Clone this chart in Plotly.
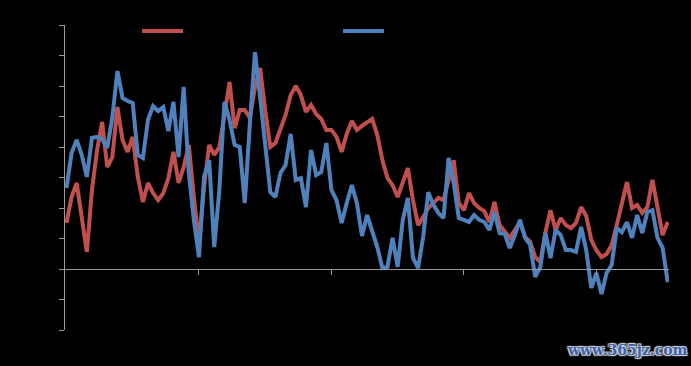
import plotly.graph_objects as go

# weekly index (0..118)
weeks = list(range(119))

series_red = [
    1.51, 2.36, 2.82, 1.70, 0.56, 2.59, 3.90, 4.82, 3.34, 3.67,
    5.31, 4.23, 3.84, 4.33, 3.02, 2.20, 2.82, 2.49, 2.26, 2.49,
    2.98, 3.84, 2.82, 3.34, 4.07, 2.36, 0.85, 2.69, 4.07, 3.74,
    4.00, 5.05, 6.13, 4.62, 5.21, 5.21, 4.95, 5.97, 6.59, 5.21,
    4.00, 4.13, 4.59, 5.05, 5.70, 6.00, 5.70, 5.15, 5.38, 5.08,
    4.92, 4.56, 4.56, 4.33, 3.84, 4.43, 4.85, 4.56, 4.69, 4.82,
    4.92, 4.39, 3.57, 2.98, 2.75, 2.36, 2.82, 3.31, 2.26, 1.44,
    1.70, 2.00, 2.16, 2.33, 2.26, 2.92, 3.57, 2.16, 1.93, 2.49,
    2.16, 2.00, 1.90, 1.54, 2.20, 1.44, 1.25, 1.02, 1.28, 1.54,
    1.05, 0.89, 0.39, 0.23, 1.21, 1.93, 1.28, 1.67, 1.44, 1.34,
    1.51, 2.03, 1.74, 0.95, 0.62, 0.39, 0.49, 0.79, 1.44, 2.10,
    2.85, 2.00, 2.10, 1.84, 2.03, 2.92, 2.03, 1.11, 1.54,
]

series_blue = [
    2.66, 3.80, 4.23, 3.74, 3.02, 4.30, 4.33, 4.26, 3.97, 4.98,
    6.49, 5.61, 5.51, 5.44, 3.74, 3.64, 4.89, 5.34, 5.18, 5.31,
    4.52, 5.48, 3.67, 5.97, 3.15, 1.61, 0.39, 3.02, 3.57, 0.72,
    2.59, 5.48, 4.89, 4.07, 4.00, 2.16, 4.79, 7.11, 5.64, 4.00,
    2.52, 2.36, 3.15, 3.41, 4.43, 2.92, 2.98, 2.03, 3.90, 3.08,
    3.18, 4.13, 2.59, 2.26, 1.51, 2.16, 2.75, 2.16, 1.08, 1.77,
    1.28, 0.72, 0.03, 0.07, 1.02, 0.07, 1.61, 2.33, 0.36, 0.03,
    1.05, 2.52, 2.10, 1.84, 1.67, 3.64, 2.82, 1.67, 1.61, 1.54,
    1.77, 1.61, 1.54, 1.28, 1.87, 1.18, 1.15, 0.69, 1.11, 1.61,
    1.02, 0.79, -0.26, 0.07, 1.18, 0.36, 1.28, 1.11, 0.62, 0.62,
    0.56, 1.38, 0.62, -0.62, -0.13, -0.82, -0.13, 0.13, 1.34, 1.21,
    1.54, 1.02, 1.77, 1.18, 1.87, 1.93, 1.02, 0.69, -0.43,
]

x_tickvals = [26, 52, 78, 104]

RED = "#C0504D"
BLUE = "#4F81BD"
AXIS = "#9a9a9a"

fig = go.Figure()
fig.add_trace(go.Scatter(x=weeks, y=series_red, mode="lines",
                         line=dict(color=RED, width=4), name="系列1",
                         showlegend=False))
fig.add_trace(go.Scatter(x=weeks, y=series_blue, mode="lines",
                         line=dict(color=BLUE, width=4), name="系列2",
                         showlegend=False))

# legend swatches (legend text is black on black in the original)
for x0, x1, c in [(0.1275, 0.1954, RED), (0.4603, 0.528, BLUE)]:
    fig.add_shape(type="line", xref="paper", yref="paper",
                  x0=x0, x1=x1, y0=0.98, y1=0.98,
                  line=dict(color=c, width=4))

fig.add_annotation(text="www.365jz.com", xref="paper", yref="paper",
                   x=0.9305, y=-0.066, xanchor="center", yanchor="middle",
                   showarrow=False,
                   font=dict(family="DejaVu Serif", size=14, color="#3a62b0",
                             weight="bold",
                             shadow="1px 1px 1px #d8d8d8, -1px -1px 1px #d8d8d8, 1px -1px 1px #d8d8d8, -1px 1px 1px #d8d8d8"))

fig.update_layout(
    width=691, height=366,
    paper_bgcolor="black", plot_bgcolor="black",
    margin=dict(l=65, r=22, t=25, b=36),
    xaxis=dict(range=[-0.29, 118.25], anchor="free", position=0.2,
               showline=True, linecolor=AXIS, linewidth=1,
               ticks="outside", tickvals=x_tickvals, ticklen=5,
               tickcolor=AXIS, showgrid=False, zeroline=False,
               showticklabels=False),
    yaxis=dict(range=[-2, 8], dtick=1, tick0=0,
               showline=True, linecolor=AXIS, linewidth=1,
               ticks="outside", ticklen=5, tickcolor=AXIS,
               showgrid=False, zeroline=False, showticklabels=False),
)

fig.write_html("out.html")
